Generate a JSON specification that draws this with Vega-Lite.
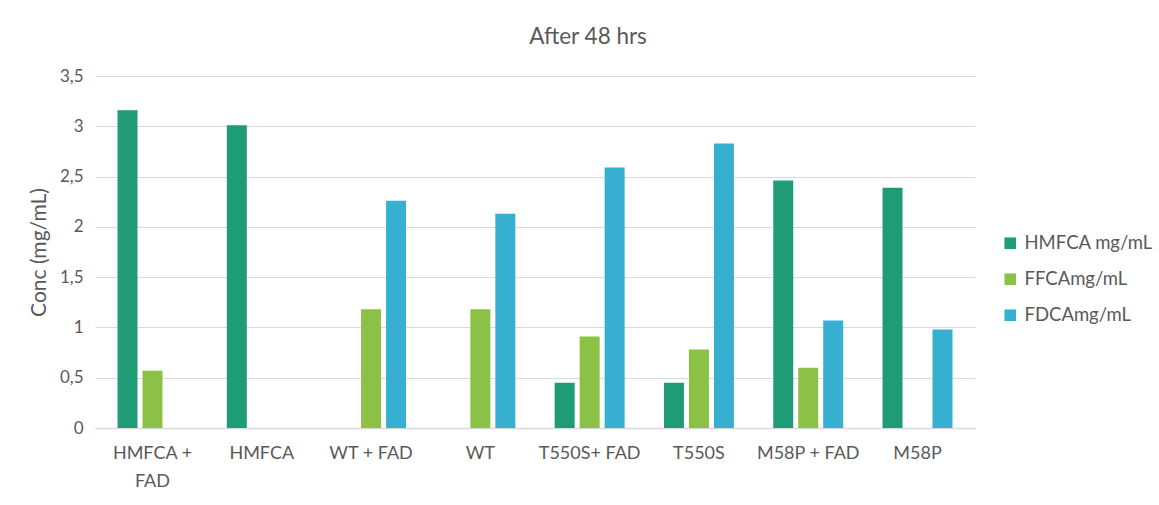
{
  "$schema": "https://vega.github.io/schema/vega-lite/v6.json",
  "width": 880,
  "height": 352,
  "autosize": "none",
  "padding": {"left": 95, "top": 76, "right": 184, "bottom": 77},
  "background": "white",
  "config": {
    "font": "Lato",
    "view": {"stroke": null},
    "locale": {"number": {"decimal": ",", "thousands": ".", "grouping": [3], "currency": ["", " €"]}}
  },
  "title": {"text": "After 48 hrs", "fontSize": 22.5, "font": "Lato", "fontWeight": "normal", "color": "#595959", "offset": 19, "dx": 53},
  "data": {"values": [
    {"cat": "HMFCA + FAD", "series": "HMFCA mg/mL", "value": 3.16},
    {"cat": "HMFCA + FAD", "series": "FFCAmg/mL", "value": 0.57},
    {"cat": "HMFCA + FAD", "series": "FDCAmg/mL", "value": 0},
    {"cat": "HMFCA", "series": "HMFCA mg/mL", "value": 3.01},
    {"cat": "HMFCA", "series": "FFCAmg/mL", "value": 0},
    {"cat": "HMFCA", "series": "FDCAmg/mL", "value": 0},
    {"cat": "WT + FAD", "series": "HMFCA mg/mL", "value": 0},
    {"cat": "WT + FAD", "series": "FFCAmg/mL", "value": 1.18},
    {"cat": "WT + FAD", "series": "FDCAmg/mL", "value": 2.26},
    {"cat": "WT", "series": "HMFCA mg/mL", "value": 0},
    {"cat": "WT", "series": "FFCAmg/mL", "value": 1.18},
    {"cat": "WT", "series": "FDCAmg/mL", "value": 2.13},
    {"cat": "T550S+ FAD", "series": "HMFCA mg/mL", "value": 0.45},
    {"cat": "T550S+ FAD", "series": "FFCAmg/mL", "value": 0.91},
    {"cat": "T550S+ FAD", "series": "FDCAmg/mL", "value": 2.59},
    {"cat": "T550S", "series": "HMFCA mg/mL", "value": 0.45},
    {"cat": "T550S", "series": "FFCAmg/mL", "value": 0.78},
    {"cat": "T550S", "series": "FDCAmg/mL", "value": 2.83},
    {"cat": "M58P + FAD", "series": "HMFCA mg/mL", "value": 2.46},
    {"cat": "M58P + FAD", "series": "FFCAmg/mL", "value": 0.6},
    {"cat": "M58P + FAD", "series": "FDCAmg/mL", "value": 1.07},
    {"cat": "M58P", "series": "HMFCA mg/mL", "value": 2.39},
    {"cat": "M58P", "series": "FFCAmg/mL", "value": 0},
    {"cat": "M58P", "series": "FDCAmg/mL", "value": 0.98}
  ]},
  "mark": {"type": "bar"},
  "encoding": {
    "x": {
      "field": "cat", "type": "nominal", "sort": null,
      "scale": {"paddingInner": 0.36, "paddingOuter": 0.206},
      "axis": {
        "title": null, "labelAngle": 0, "labelFontSize": 18, "labelColor": "#595959",
        "labelPadding": 16, "ticks": false, "domainColor": "#d9d9d9", "domainWidth": 1.5,
        "labelExpr": "datum.value == 'HMFCA + FAD' ? ['HMFCA +', 'FAD'] : datum.value",
        "labelLineHeight": 28
      }
    },
    "xOffset": {
      "field": "series", "type": "nominal", "sort": ["HMFCA mg/mL", "FFCAmg/mL", "FDCAmg/mL"],
      "scale": {"paddingInner": 0.2, "paddingOuter": 0}
    },
    "y": {
      "field": "value", "type": "quantitative",
      "scale": {"domain": [0, 3.5], "nice": false},
      "axis": {
        "title": "Conc (mg/mL)", "titleFontSize": 21, "titleFontWeight": "normal", "titleColor": "#595959",
        "titlePadding": 10,
        "values": [0, 0.5, 1, 1.5, 2, 2.5, 3, 3.5], "format": "~g",
        "labelFontSize": 17, "labelColor": "#595959", "labelPadding": 12,
        "ticks": false, "domain": false, "gridColor": "#d9d9d9", "gridWidth": 1.2
      }
    },
    "color": {
      "field": "series", "type": "nominal", "sort": ["HMFCA mg/mL", "FFCAmg/mL", "FDCAmg/mL"],
      "scale": {"domain": ["HMFCA mg/mL", "FFCAmg/mL", "FDCAmg/mL"], "range": ["#1f9b76", "#8bc145", "#36afd0"]},
      "legend": {
        "title": null, "orient": "none", "legendX": 906, "legendY": 158,
        "symbolType": "square", "symbolSize": 135, "symbolStrokeWidth": 0,
        "labelFontSize": 18.5, "labelColor": "#595959", "rowPadding": 17, "labelOffset": 5, "labelLimit": 300
      }
    }
  }
}
